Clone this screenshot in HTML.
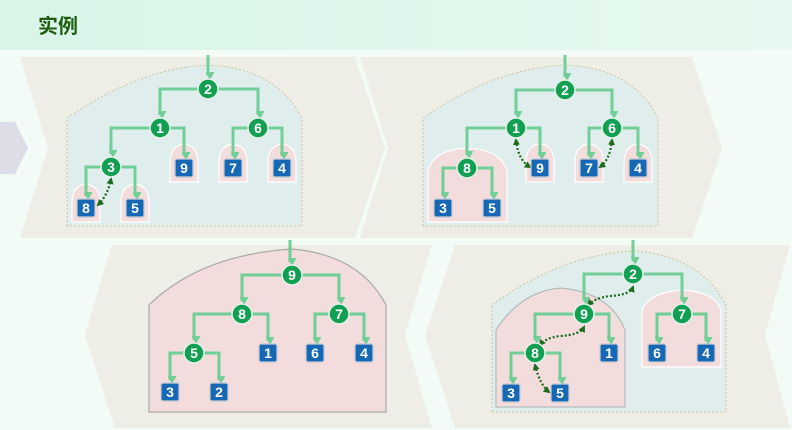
<!DOCTYPE html>
<html><head><meta charset="utf-8"><style>
body{margin:0;width:792px;height:430px;overflow:hidden;background:#f2fbf6;}
svg{display:block}
</style></head><body>
<svg width="792" height="430" viewBox="0 0 792 430" xmlns="http://www.w3.org/2000/svg" font-family="Liberation Sans, DejaVu Sans, sans-serif">
<defs>
<linearGradient id="hg" x1="0" x2="1"><stop offset="0" stop-color="#d9f5e8"/><stop offset="1" stop-color="#e6f8ef"/></linearGradient>
<marker id="ar" markerWidth="9" markerHeight="8" refX="4.5" refY="6" orient="auto" markerUnits="userSpaceOnUse" viewBox="0 0 9 8"><path d="M0,0 L9,0 L4.5,8z" fill="#6fcf97" transform="rotate(-90 4.5 4)"/></marker>
<marker id="da" markerWidth="7" markerHeight="7" refX="5" refY="3.5" orient="auto-start-reverse" markerUnits="userSpaceOnUse"><path d="M0,0 L7,3.5 L0,7z" fill="#1e6b1e"/></marker>
<g id="hs"><path d="M-14,14 V-6 Q-14,-22 0,-24 Q14,-22 14,-6 V14 Z" fill="#f2dcdc" stroke="#fff" stroke-width="1.2"/></g>
</defs>
<rect x="0" y="0" width="792" height="50" fill="url(#hg)"/>
<text x="38" y="33" font-size="20" font-weight="bold" fill="#1f5e10" font-family="Liberation Sans, Noto Sans CJK SC, sans-serif">实例</text>
<polygon points="20,57 355,57 385,148 355,238 20,238 48,148" fill="#eeeee6"/>
<polygon points="360,57 692,57 722,148 692,238 360,238 388,148" fill="#eeeee6"/>
<polygon points="112,245 432,245 405,335 432,428 115,428 85,335" fill="#eeeee6"/>
<polygon points="455,245 790,245 765,335 790,428 455,428 425,335" fill="#eeeee6"/>
<polygon points="0,122 14,122 14,120 28,148 14,176 14,174 0,174" fill="#dcdde6"/>

<!-- Tree 1 -->
<path d="M67,226 V118 Q140,68 208,65 Q276,68 302,118 V226 Z" fill="#e0eded" stroke="#c9c39a" stroke-dasharray="2,2"/>
<use href="#hs" x="184" y="168"/><use href="#hs" x="233" y="168"/><use href="#hs" x="282" y="168"/><use href="#hs" x="86" y="208"/><use href="#hs" x="135" y="208"/>
<g stroke-width="3" fill="none" stroke="#6fcf97" marker-end="url(#ar)">
<path d="M208,55 V76"/>
<path d="M208,89 H160 V115"/><path d="M208,89 H258 V115"/>
<path d="M160,128 H111 V154"/><path d="M160,128 H184 V156"/>
<path d="M258,128 H233 V156"/><path d="M258,128 H282 V156"/>
<path d="M111,167 H86 V196"/><path d="M111,167 H135 V196"/>
</g>
<path d="M98,205 Q108,195 111,179" stroke="#1e6b1e" stroke-width="2.2" stroke-dasharray="2,2" fill="none" marker-start="url(#da)" marker-end="url(#da)"/>

<!-- Tree 2 -->
<path d="M423,226 V118 Q495,68 565,65 Q633,68 658,118 V226 Z" fill="#e0eded" stroke="#c9c39a" stroke-dasharray="2,2"/>
<path d="M428,222 V172 Q432,150 467,148 Q503,150 507,172 V222 Z" fill="#f2dcdc" stroke="#fff" stroke-width="1.2"/>
<use href="#hs" x="540" y="168"/><use href="#hs" x="589" y="168"/><use href="#hs" x="638" y="168"/>
<g stroke-width="3" fill="none" stroke="#6fcf97" marker-end="url(#ar)">
<path d="M565,55 V77"/>
<path d="M565,90 H516 V115"/><path d="M565,90 H612 V115"/>
<path d="M516,128 H467 V155"/><path d="M516,128 H540 V156"/>
<path d="M612,128 H589 V156"/><path d="M612,128 H638 V156"/>
<path d="M467,168 H443 V196"/><path d="M467,168 H492 V196"/>
</g>
<path d="M516,140 Q518,160 530,167" stroke="#1e6b1e" stroke-width="2.2" stroke-dasharray="2,2" fill="none" marker-start="url(#da)" marker-end="url(#da)"/>
<path d="M612,140 Q610,160 600,167" stroke="#1e6b1e" stroke-width="2.2" stroke-dasharray="2,2" fill="none" marker-start="url(#da)" marker-end="url(#da)"/>

<!-- Tree 3 -->
<path d="M149,412 V305 Q200,255 292,249 Q360,255 386,305 V412 Z" fill="#f2dcdc" stroke="#a9a9a9" stroke-width="1.2"/>
<g stroke-width="3" fill="none" stroke="#6fcf97" marker-end="url(#ar)">
<path d="M290,240 V262"/>
<path d="M292,275 H242 V301"/><path d="M292,275 H339 V301"/>
<path d="M242,314 H194 V340"/><path d="M242,314 H268 V341"/>
<path d="M339,314 H315 V341"/><path d="M339,314 H364 V341"/>
<path d="M194,353 H170 V380"/><path d="M194,353 H219 V380"/>
</g>

<!-- Tree 4 -->
<path d="M492,412 V305 Q560,255 633,251 Q700,255 726,305 V412 Z" fill="#e0eded" stroke="#c9c39a" stroke-dasharray="2,2"/>
<path d="M496,407 V330 Q520,292 560,288 Q610,292 625,330 V407 Z" fill="#f2dcdc" stroke="#a9b4b4" stroke-width="1"/>
<path d="M642,367 V310 Q650,292 682,290 Q715,292 721,310 V367 Z" fill="#f2dcdc" stroke="#fff" stroke-width="1.2"/>
<g stroke-width="3" fill="none" stroke="#6fcf97" marker-end="url(#ar)">
<path d="M633,240 V261"/>
<path d="M633,274 H584 V301"/><path d="M633,274 H682 V301"/>
<path d="M584,314 H535 V340"/><path d="M584,314 H609 V341"/>
<path d="M682,314 H657 V341"/><path d="M682,314 H706 V341"/>
<path d="M535,353 H511 V381"/><path d="M535,353 H560 V381"/>
</g>
<path d="M633,287 Q630,295 610,296 Q595,298 588,305" stroke="#1e6b1e" stroke-width="2.2" stroke-dasharray="2,2" fill="none" marker-start="url(#da)" marker-end="url(#da)"/>
<path d="M584,327 Q580,335 560,336 Q545,338 540,345" stroke="#1e6b1e" stroke-width="2.2" stroke-dasharray="2,2" fill="none" marker-start="url(#da)" marker-end="url(#da)"/>
<path d="M535,365 Q540,385 549,392" stroke="#1e6b1e" stroke-width="2.2" stroke-dasharray="2,2" fill="none" marker-start="url(#da)" marker-end="url(#da)"/>

<g fill="#11a052" stroke="#e8f0ea" stroke-width="1.5">
<circle cx="208" cy="89" r="10"/><circle cx="160" cy="128" r="10"/><circle cx="258" cy="128" r="10"/><circle cx="111" cy="167" r="10"/>
<circle cx="565" cy="90" r="10"/><circle cx="516" cy="128" r="10"/><circle cx="612" cy="128" r="10"/><circle cx="467" cy="168" r="10"/>
<circle cx="292" cy="275" r="10"/><circle cx="242" cy="314" r="10"/><circle cx="339" cy="314" r="10"/><circle cx="194" cy="353" r="10"/>
<circle cx="633" cy="274" r="10"/><circle cx="584" cy="314" r="10"/><circle cx="682" cy="314" r="10"/><circle cx="535" cy="353" r="10"/>
</g>
<g fill="#1668b4" stroke="#c8ccd4" stroke-width="1.2">
<rect x="175" y="159" width="18" height="18" rx="2"/><rect x="224" y="159" width="18" height="18" rx="2"/><rect x="273" y="159" width="18" height="18" rx="2"/><rect x="77" y="199" width="18" height="18" rx="2"/><rect x="126" y="199" width="18" height="18" rx="2"/>
<rect x="531" y="159" width="18" height="18" rx="2"/><rect x="580" y="159" width="18" height="18" rx="2"/><rect x="629" y="159" width="18" height="18" rx="2"/><rect x="434" y="199" width="18" height="18" rx="2"/><rect x="483" y="199" width="18" height="18" rx="2"/>
<rect x="259" y="344" width="18" height="18" rx="2"/><rect x="306" y="344" width="18" height="18" rx="2"/><rect x="355" y="344" width="18" height="18" rx="2"/><rect x="161" y="383" width="18" height="18" rx="2"/><rect x="210" y="383" width="18" height="18" rx="2"/>
<rect x="600" y="344" width="18" height="18" rx="2"/><rect x="648" y="344" width="18" height="18" rx="2"/><rect x="697" y="344" width="18" height="18" rx="2"/><rect x="502" y="384" width="18" height="18" rx="2"/><rect x="551" y="384" width="18" height="18" rx="2"/>
</g>
<g fill="#fff" font-size="14" font-weight="bold" text-anchor="middle">
<text x="208" y="94">2</text><text x="160" y="133">1</text><text x="258" y="133">6</text><text x="111" y="172">3</text>
<text x="184" y="173">9</text><text x="233" y="173">7</text><text x="282" y="173">4</text><text x="86" y="213">8</text><text x="135" y="213">5</text>
<text x="565" y="95">2</text><text x="516" y="133">1</text><text x="612" y="133">6</text><text x="467" y="173">8</text>
<text x="540" y="173">9</text><text x="589" y="173">7</text><text x="638" y="173">4</text><text x="443" y="213">3</text><text x="492" y="213">5</text>
<text x="292" y="280">9</text><text x="242" y="319">8</text><text x="339" y="319">7</text><text x="194" y="358">5</text>
<text x="268" y="358">1</text><text x="315" y="358">6</text><text x="364" y="358">4</text><text x="170" y="397">3</text><text x="219" y="397">2</text>
<text x="633" y="279">2</text><text x="584" y="319">9</text><text x="682" y="319">7</text><text x="535" y="358">8</text>
<text x="609" y="358">1</text><text x="657" y="358">6</text><text x="706" y="358">4</text><text x="511" y="398">3</text><text x="560" y="398">5</text>
</g>
</svg>
</body></html>
